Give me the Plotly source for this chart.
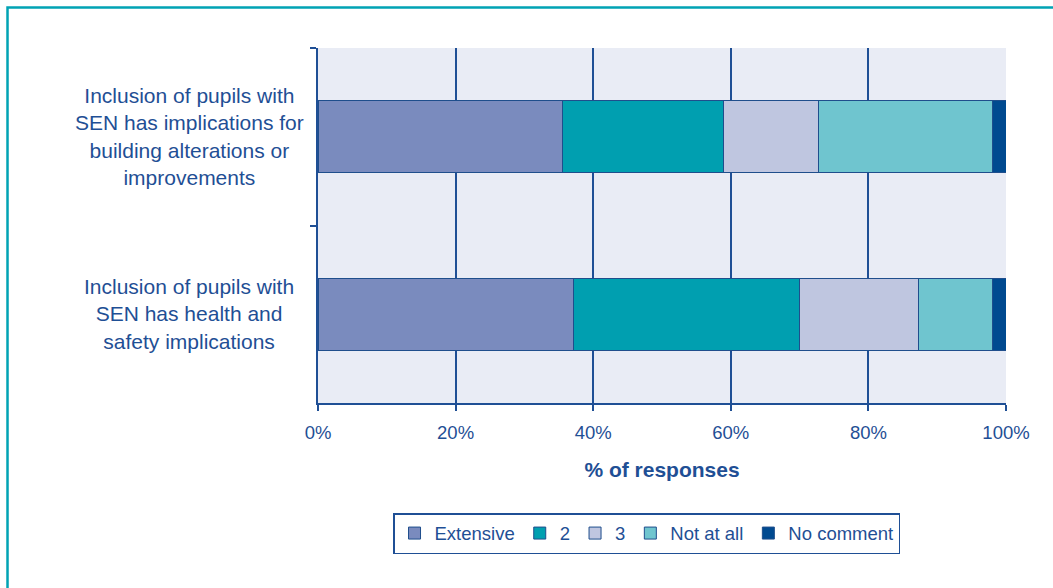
import plotly.graph_objects as go

categories = [
    "Inclusion of pupils with<br>SEN has implications for<br>building alterations or<br>improvements",
    "Inclusion of pupils with<br>SEN has health and<br>safety implications",
]
series_names = ["Extensive", "2", "3", "Not at all", "No comment"]
extensive = [35.6, 37.2]
two = [23.4, 32.8]
three = [13.8, 17.3]
not_at_all = [25.2, 10.7]
no_comment = [2.0, 2.0]
x_ticks = [0, 20, 40, 60, 80, 100]

series_values = [extensive, two, three, not_at_all, no_comment]
colors = ["#7a8bbe", "#009fb0", "#bfc6e0", "#6fc5cf", "#004a90"]

TEXT = "#1f4f95"
LINE = "#1f4f95"
FONT = "Liberation Sans, Arial, sans-serif"

fig = go.Figure()
for name, vals, col in zip(series_names, series_values, colors):
    fig.add_trace(go.Bar(
        y=categories, x=vals, name=name, orientation="h",
        marker=dict(color=col, line=dict(color="#1f4e8c", width=1)),
        hoverinfo="skip",
    ))

for cat in categories:
    fig.add_annotation(
        x=-0.1875, xref="paper", y=cat, yref="y", text=cat,
        showarrow=False, xanchor="center", yanchor="middle", align="center",
        font=dict(family=FONT, size=21, color=TEXT),
    )

# outer frame
fig.add_shape(type="rect", xref="paper", yref="paper",
              x0=-0.4513, x1=1.08, y0=-0.55, y1=1.1141,
              line=dict(color="#00a3b4", width=2.5), fillcolor="rgba(0,0,0,0)")

fig.update_layout(
    width=1053, height=588,
    margin=dict(l=318, r=47, t=48, b=185),
    barmode="stack", bargap=0.595,
    plot_bgcolor="#e9ecf5", paper_bgcolor="white",
    font=dict(family=FONT, color=TEXT),
    showlegend=True,
    legend=dict(
        orientation="h", x=0.4775, xanchor="center", y=-0.31, yanchor="top",
        bordercolor=LINE, borderwidth=1.5, bgcolor="white",
        font=dict(family=FONT, size=18.5, color=TEXT),
        itemwidth=30, traceorder="normal",
    ),
    xaxis=dict(
        range=[0, 100], tickvals=x_ticks, ticktext=[f"{v}%" for v in x_ticks],
        showgrid=True, gridcolor=LINE, gridwidth=1.5,
        showline=True, linecolor=LINE, linewidth=1.5,
        ticks="outside", ticklen=6, tickcolor=LINE, tickwidth=1.5,
        tickfont=dict(family=FONT, size=18.5, color=TEXT),
        ticklabelstandoff=6,
        zeroline=False,
        title=dict(text="<b>% of responses</b>", font=dict(family=FONT, size=21, color=TEXT), standoff=20),
    ),
    yaxis=dict(
        autorange="reversed", showticklabels=False,
        tickson="boundaries", ticks="outside", ticklen=6, tickcolor=LINE, tickwidth=1.5,
        showgrid=False, showline=True, linecolor=LINE, linewidth=1.5,
        zeroline=False,
    ),
)

fig.write_html(
    "out.html",
    config={"displayModeBar": False},
    post_script="document.body.style.margin='0';document.body.style.overflow='hidden';",
)
